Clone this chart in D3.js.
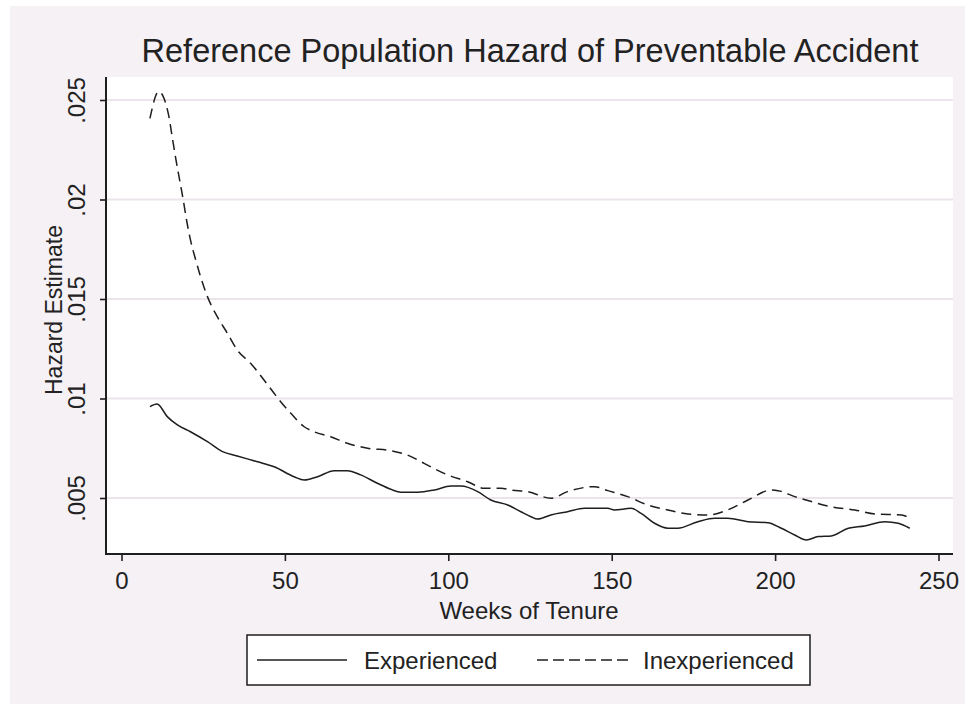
<!DOCTYPE html>
<html>
<head>
<meta charset="utf-8">
<script src="https://cdn.jsdelivr.net/npm/d3@7"></script>
<style>
  html, body { margin: 0; padding: 0; background: #ffffff; }
  svg { display: block; }
  text { font-family: "Liberation Sans", Arial, sans-serif; fill: #222; }
</style>
</head>
<body>
<svg id="chart" width="965" height="704"></svg>
<script>
const chartTitle = "Reference Population Hazard of Preventable Accident";
const xTitle = "Weeks of Tenure";
const yTitle = "Hazard Estimate";
const xTicks = [0, 50, 100, 150, 200, 250];
const yTicks = [0.005, 0.01, 0.015, 0.02, 0.025];
const yTickLabels = [".005", ".01", ".015", ".02", ".025"];
const seriesNames = ["Experienced", "Inexperienced"];

const expWeeks = [8.7, 10.9, 14, 17.1, 21.1, 26.3, 30.9, 35.4, 41.6, 46.7, 52.8, 55.9, 60, 65.1, 69.1, 73.2, 78.3, 82.4, 85.5, 90.6, 95.7, 100.8, 103.9, 109, 113, 118.2, 122.2, 125.3, 127.3, 131.4, 136.5, 141.6, 148.8, 150.8, 155.9, 159, 163.1, 167.2, 170.2, 176.4, 181.5, 185.5, 191.7, 197.8, 201.9, 206, 209.6, 213.2, 217.2, 222.4, 227.4, 233.6, 237.7, 241.2];
const expValues = [0.00959, 0.00972, 0.00909, 0.00867, 0.00833, 0.00783, 0.00733, 0.00711, 0.00682, 0.00657, 0.00607, 0.0059, 0.00607, 0.00637, 0.00637, 0.00616, 0.00574, 0.00544, 0.00529, 0.00529, 0.0054, 0.0056, 0.0056, 0.00532, 0.0049, 0.00465, 0.00431, 0.00406, 0.00394, 0.00415, 0.00431, 0.00448, 0.00448, 0.0044, 0.00448, 0.00423, 0.00373, 0.00348, 0.00348, 0.00381, 0.00398, 0.00398, 0.00381, 0.00376, 0.00348, 0.00314, 0.00289, 0.00306, 0.00309, 0.00348, 0.00359, 0.00381, 0.00373, 0.00348];

const inexpWeeks = [8.7, 11.4, 14.4, 15.5, 16.5, 17.6, 18.9, 19.9, 21.1, 22.7, 24.2, 26.3, 29.3, 32.4, 35.4, 39.5, 43.6, 46.7, 48.7, 51.8, 55.9, 58.9, 64, 69.1, 75.3, 82.4, 87.5, 92.6, 99.8, 105.9, 111, 116.1, 119.2, 124.3, 131.4, 136.5, 144.7, 148.8, 154.9, 161, 167.2, 173.3, 179.4, 185.5, 191.7, 198.8, 200.9, 206, 211.1, 217.2, 224.4, 230.5, 238.7, 241.2];
const inexpValues = [0.02408, 0.02542, 0.02425, 0.02316, 0.02215, 0.02115, 0.01997, 0.01897, 0.01797, 0.01697, 0.01612, 0.01512, 0.01411, 0.01328, 0.01244, 0.01177, 0.01093, 0.01026, 0.00984, 0.00926, 0.00858, 0.00833, 0.00808, 0.00775, 0.0075, 0.00738, 0.00716, 0.00674, 0.00616, 0.00582, 0.00549, 0.00549, 0.0054, 0.00532, 0.00499, 0.00532, 0.00557, 0.00537, 0.00507, 0.00465, 0.0044, 0.0042, 0.00415, 0.0044, 0.0049, 0.0054, 0.00537, 0.00507, 0.00482, 0.00456, 0.0044, 0.0042, 0.00415, 0.00398];

const svg = d3.select("#chart");
const W = 965, H = 704;
const ink = "#1e1e1e";

// outer graph region
svg.append("rect").attr("x", 0).attr("y", 0).attr("width", W).attr("height", H).attr("fill", "#ffffff");
svg.append("rect").attr("x", 10).attr("y", 6).attr("width", W - 10).attr("height", H - 6).attr("fill", "#f5f1f5");

const plot = { left: 106, right: 953, top: 77, bottom: 554 };
svg.append("rect").attr("x", plot.left).attr("y", plot.top)
  .attr("width", plot.right - plot.left).attr("height", plot.bottom - plot.top)
  .attr("fill", "#ffffff");

const x = d3.scaleLinear().domain([0, 250]).range([121.5, 938.5]);
const y = d3.scaleLinear().domain([0.005, 0.025]).range([498, 100]);

// gridlines
svg.append("g").selectAll("line").data(yTicks).join("line")
  .attr("x1", plot.left).attr("x2", plot.right)
  .attr("y1", d => y(d)).attr("y2", d => y(d))
  .attr("stroke", "#ebe5eb").attr("stroke-width", 2);

// y axis
const yAxis = d3.axisLeft(y).tickValues(yTicks).tickSize(6).tickFormat((d, i) => yTickLabels[i]);
const gy = svg.append("g").attr("transform", `translate(${plot.left},0)`).call(yAxis);
gy.select(".domain").remove();
gy.selectAll(".tick line").attr("stroke", ink).attr("stroke-width", 1.6);
gy.selectAll(".tick text")
  .attr("font-size", 24).attr("fill", "#222")
  .attr("text-anchor", "middle")
  .attr("transform", `translate(-21, 0) rotate(-90)`)
  .attr("x", 0).attr("y", 0).attr("dy", 0);
svg.append("line").attr("x1", plot.left).attr("x2", plot.left)
  .attr("y1", plot.top).attr("y2", plot.bottom + 1)
  .attr("stroke", ink).attr("stroke-width", 2);

// x axis
const xAxis = d3.axisBottom(x).tickValues(xTicks).tickSize(7).tickFormat(d3.format("d"));
const gx = svg.append("g").attr("transform", `translate(0,${plot.bottom})`).call(xAxis);
gx.select(".domain").remove();
gx.selectAll(".tick line").attr("stroke", ink).attr("stroke-width", 1.6);
gx.selectAll(".tick text").attr("font-size", 24).attr("fill", "#222").attr("y", 35).attr("dy", 0);
svg.append("line").attr("x1", plot.left - 1).attr("x2", plot.right)
  .attr("y1", plot.bottom).attr("y2", plot.bottom)
  .attr("stroke", ink).attr("stroke-width", 2);

// lines
const line = d3.line().x(d => x(d[0])).y(d => y(d[1])).curve(d3.curveMonotoneX);
const expData = expWeeks.map((w, i) => [w, expValues[i]]);
const inexpData = inexpWeeks.map((w, i) => [w, inexpValues[i]]);

svg.append("path").datum(expData).attr("d", line)
  .attr("fill", "none").attr("stroke", ink).attr("stroke-width", 1.5);
svg.append("path").datum(inexpData).attr("d", line)
  .attr("fill", "none").attr("stroke", ink).attr("stroke-width", 1.5)
  .attr("stroke-dasharray", "10,6");

// titles
svg.append("text").attr("x", 530).attr("y", 62).attr("text-anchor", "middle")
  .attr("font-size", 32.5).attr("fill", "#333").text(chartTitle);
svg.append("text").attr("x", 529).attr("y", 619).attr("text-anchor", "middle")
  .attr("font-size", 24).attr("fill", "#222").text(xTitle);
svg.append("text").attr("transform", `translate(62, 310) rotate(-90)`)
  .attr("text-anchor", "middle").attr("font-size", 23).attr("fill", "#222").text(yTitle);

// legend
const lg = svg.append("g");
lg.append("rect").attr("x", 247).attr("y", 635).attr("width", 563).attr("height", 50)
  .attr("fill", "#ffffff").attr("stroke", ink).attr("stroke-width", 1.5);
lg.append("line").attr("x1", 257).attr("x2", 347).attr("y1", 660).attr("y2", 660)
  .attr("stroke", ink).attr("stroke-width", 1.5);
lg.append("text").attr("x", 364).attr("y", 669).attr("font-size", 24).attr("fill", "#222").text(seriesNames[0]);
lg.append("line").attr("x1", 537).attr("x2", 628).attr("y1", 660).attr("y2", 660)
  .attr("stroke", ink).attr("stroke-width", 1.5).attr("stroke-dasharray", "11,5");
lg.append("text").attr("x", 643).attr("y", 669).attr("font-size", 24).attr("fill", "#222").text(seriesNames[1]);
</script>
</body>
</html>
